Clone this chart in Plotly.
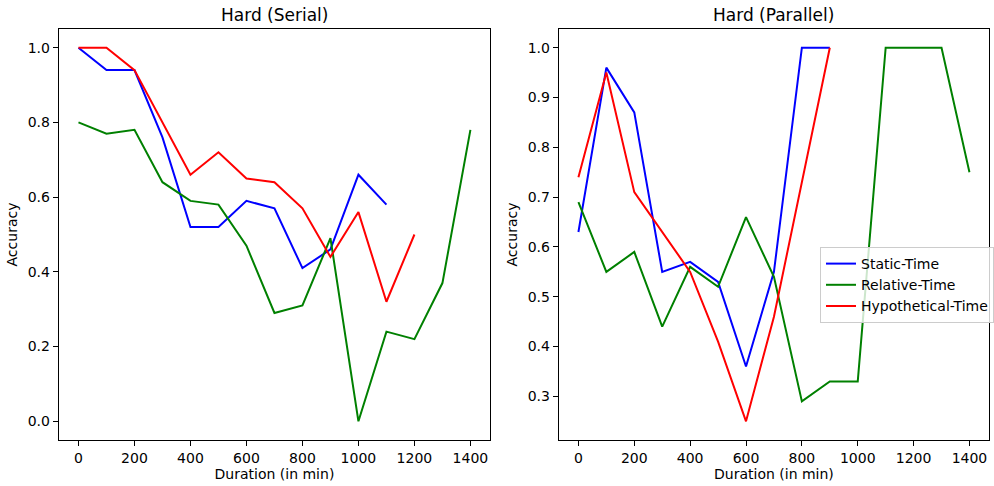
import plotly.graph_objects as go

# ---- data: Hard (Serial) ----
serial_static_x = [0, 100, 200, 300, 400, 500, 600, 700, 800, 900, 1000, 1100]
serial_static_y = [1.00, 0.94, 0.94, 0.76, 0.52, 0.52, 0.59, 0.57, 0.41, 0.46, 0.66, 0.58]
serial_relative_x = [0, 100, 200, 300, 400, 500, 600, 700, 800, 900, 1000, 1100, 1200, 1300, 1400]
serial_relative_y = [0.80, 0.77, 0.78, 0.64, 0.59, 0.58, 0.47, 0.29, 0.31, 0.49, 0.00, 0.24, 0.22, 0.37, 0.78]
serial_hypo_x = [0, 100, 200, 300, 400, 500, 600, 700, 800, 900, 1000, 1100, 1200]
serial_hypo_y = [1.00, 1.00, 0.94, 0.80, 0.66, 0.72, 0.65, 0.64, 0.57, 0.44, 0.56, 0.32, 0.50]

# ---- data: Hard (Parallel) ----
par_static_x = [0, 100, 200, 300, 400, 500, 600, 700, 800, 900]
par_static_y = [0.63, 0.96, 0.87, 0.55, 0.57, 0.53, 0.36, 0.55, 1.00, 1.00]
par_relative_x = [0, 100, 200, 300, 400, 500, 600, 700, 800, 900, 1000, 1100, 1200, 1300, 1400]
par_relative_y = [0.69, 0.55, 0.59, 0.44, 0.56, 0.52, 0.66, 0.54, 0.29, 0.33, 0.33, 1.00, 1.00, 1.00, 0.75]
par_hypo_x = [0, 100, 200, 300, 400, 500, 600, 700, 800, 900]
par_hypo_y = [0.74, 0.95, 0.71, 0.63, 0.55, 0.41, 0.25, 0.46, 0.73, 1.00]

series_names = ["Static-Time", "Relative-Time", "Hypothetical-Time"]
colors = ["#0000ff", "#008000", "#ff0000"]
titles = ["Hard (Serial)", "Hard (Parallel)"]
x_ticks = [0, 200, 400, 600, 800, 1000, 1200, 1400]

FONT = "DejaVu Sans"
fig = go.Figure()

left = [(serial_static_x, serial_static_y), (serial_relative_x, serial_relative_y), (serial_hypo_x, serial_hypo_y)]
right = [(par_static_x, par_static_y), (par_relative_x, par_relative_y), (par_hypo_x, par_hypo_y)]

for i, (xs, ys) in enumerate(left):
    fig.add_trace(go.Scatter(x=xs, y=ys, mode="lines", name=series_names[i],
                             line=dict(color=colors[i], width=2), showlegend=False,
                             xaxis="x", yaxis="y"))
for i, (xs, ys) in enumerate(right):
    fig.add_trace(go.Scatter(x=xs, y=ys, mode="lines", name=series_names[i],
                             line=dict(color=colors[i], width=2), showlegend=True,
                             xaxis="x2", yaxis="y2"))

ax_common = dict(showline=True, linecolor="black", linewidth=1.2, mirror=True,
                 ticks="outside", ticklen=5, tickwidth=1.2, tickcolor="black",
                 showgrid=False, zeroline=False,
                 tickfont=dict(family=FONT, size=14, color="black"))

yd = [1 - 440 / 486, 1 - 29 / 486]
fig.update_layout(
    width=994, height=486,
    margin=dict(l=0, r=0, t=0, b=0),
    paper_bgcolor="white", plot_bgcolor="white",
    font=dict(family=FONT, size=14, color="black"),
    xaxis=dict(domain=[59 / 994, 491 / 994], range=[-70, 1470], tickvals=x_ticks,
               title=dict(text="Duration (in min)", font=dict(family=FONT, size=14), standoff=3),
               anchor="y", **ax_common),
    yaxis=dict(domain=yd, range=[-0.05, 1.05], tickvals=[0, 0.2, 0.4, 0.6, 0.8, 1.0], tickformat=".1f",
               title=dict(text="Accuracy", font=dict(family=FONT, size=14), standoff=6),
               anchor="x", **ax_common),
    xaxis2=dict(domain=[560 / 994, 991 / 994], range=[-70, 1470], tickvals=x_ticks,
                title=dict(text="Duration (in min)", font=dict(family=FONT, size=14), standoff=3),
                anchor="y2", **ax_common),
    yaxis2=dict(domain=yd, range=[0.2125, 1.0375], tickvals=[0.3, 0.4, 0.5, 0.6, 0.7, 0.8, 0.9, 1.0],
                tickformat=".1f",
                title=dict(text="Accuracy", font=dict(family=FONT, size=14), standoff=6),
                anchor="x2", **ax_common),
    legend=dict(x=822 / 994, y=1 - 285 / 486, xanchor="left", yanchor="middle",
                bgcolor="rgba(255,255,255,0.8)", bordercolor="#cccccc", borderwidth=1,
                font=dict(family=FONT, size=14, color="black"), tracegroupgap=0),
    showlegend=True,
)

for i, t in enumerate(titles):
    dom = fig.layout.xaxis.domain if i == 0 else fig.layout.xaxis2.domain
    fig.add_annotation(text=t, x=(dom[0] + dom[1]) / 2, y=1 - 15 / 486, xref="paper", yref="paper",
                       xanchor="center", yanchor="middle", showarrow=False,
                       font=dict(family=FONT, size=17, color="black"))

fig.write_html("out.html", config={"displayModeBar": False},
               post_script="document.body.style.margin='0';document.body.style.overflow='hidden';")
